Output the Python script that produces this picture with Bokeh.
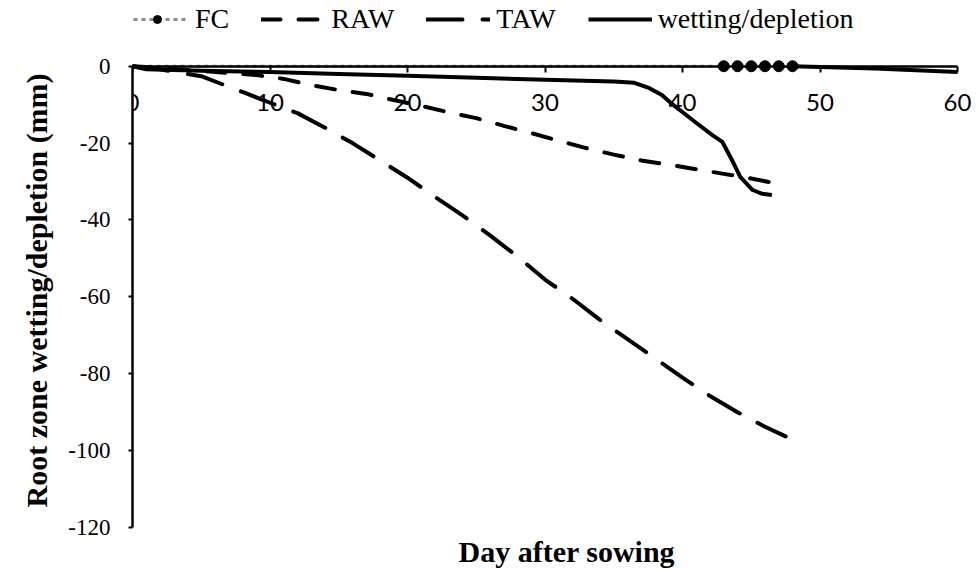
from bokeh.plotting import figure
from bokeh.models import Range1d, FixedTicker, Legend, LegendItem, Title, PrintfTickFormatter, LinearAxis
from bokeh.embed import file_html
from bokeh.resources import INLINE
import numpy as np

# ---- data ----
x_ticks = [0, 10, 20, 30, 40, 50, 60]
y_ticks = [0, -20, -40, -60, -80, -100, -120]

fc_days = [0, 48]
fc_vals = [0, 0]
fc_marker_days = [43, 44, 45, 46, 47, 48]
fc_marker_vals = [0, 0, 0, 0, 0, 0]

raw_days = [0, 5, 9, 11, 13, 15, 17, 19, 21, 23, 25, 27, 29, 31, 33, 35, 37, 39, 41, 43, 45, 47.5]
raw_vals = [0, -1.2, -2.3, -3.3, -4.9, -6.2, -7.2, -8.8, -10.3, -12.0, -13.5, -15.5, -17.4,
            -19.4, -21.3, -23.0, -24.5, -25.6, -26.8, -28.0, -29.2, -31.0]

taw_days = [0, 2, 5, 8, 10, 12, 14, 16, 18, 20, 22, 24, 26, 28, 30, 32, 34, 36, 38, 40, 42, 44, 46, 47.5]
taw_vals = [0, -0.8, -2.6, -6.7, -9.5, -12.2, -16.0, -20.0, -24.5, -29.0, -34.0, -38.8, -44.0,
            -49.5, -55.5, -60.5, -66.0, -71.0, -76.0, -81.0, -85.8, -90.0, -93.8, -96.3]

wet_days = [0, 1, 5, 10, 15, 20, 25, 30, 35, 36.5, 37.6, 38.5, 39.3, 40.2, 41.2, 42.2, 42.9,
            43.6, 44.2, 45.1, 45.8, 46.5, 47.0, 48, 54, 60]
wet_vals = [0, -0.8, -1.2, -1.5, -2.0, -2.5, -3.0, -3.5, -4.0, -4.3, -5.7, -7.5, -10.0, -12.5,
            -15.3, -18.0, -19.7, -24.4, -28.8, -32.2, -33.2, -33.5, np.nan, 0, -0.6, -1.5]

# ---- figure ----
p = figure(width=979, height=572, x_range=Range1d(0, 61.6), y_range=Range1d(-120, 17.1),
           x_axis_location=None, output_backend="svg", toolbar_location=None,
           min_border_left=132, min_border_right=0, min_border_top=0, min_border_bottom=44)
p.grid.visible = False
p.outline_line_color = None
p.background_fill_color = "white"

fc_line = p.line(fc_days, fc_vals, line_color="#8c8c8c", line_width=3, line_dash="4 4")
fc_pts = p.scatter(fc_marker_days, fc_marker_vals, marker="circle", size=11,
                   fill_color="black", line_color="black")
raw_line = p.line(raw_days, raw_vals, line_color="black", line_width=4, line_dash="19 18",
                  line_cap="round")
taw_line = p.line(taw_days, taw_vals, line_color="black", line_width=4, line_dash="36 20",
                  line_cap="round")
wet_line = p.line(wet_days, wet_vals, line_color="black", line_width=4, line_join="round")

xa = LinearAxis(fixed_location=0)
xa.ticker = FixedTicker(ticks=x_ticks)
xa.bounds = (0, 60)
xa.major_label_standoff = 22
xa.major_tick_in = 0
xa.major_tick_out = 6
xa.minor_tick_in = 0
xa.minor_tick_out = 0
xa.axis_line_width = 2.5
xa.major_tick_line_width = 2
xa.major_label_text_font = "Lato"
xa.major_label_text_font_size = "24px"
xa.major_label_text_color = "black"
p.add_layout(xa, "below")

ya = p.yaxis[0]
ya.ticker = FixedTicker(ticks=y_ticks)
ya.bounds = (-120, 0)
ya.formatter = PrintfTickFormatter(format="%d")
ya.major_tick_out = 4
ya.major_tick_in = 0
ya.minor_tick_in = 0
ya.minor_tick_out = 0
ya.major_label_standoff = 18
ya.axis_line_width = 2.5
ya.major_tick_line_width = 2
ya.major_label_text_font = "Liberation Serif"
ya.major_label_text_font_size = "23px"
ya.major_label_text_color = "black"

p.add_layout(Title(text="Root zone wetting/depletion (mm)", align="left", offset=20,
                   standoff=26,
                   text_font="Liberation Serif", text_font_style="bold",
                   text_font_size="30px", text_color="black"), "left")

p.add_layout(Title(text="Day after sowing", align="left", offset=326,
                   text_font="Liberation Serif", text_font_style="bold",
                   text_font_size="30px", text_color="black"), "below")

legend = Legend(items=[
    LegendItem(label="FC", renderers=[fc_line, fc_pts]),
    LegendItem(label="RAW", renderers=[raw_line]),
    LegendItem(label="TAW", renderers=[taw_line]),
    LegendItem(label="wetting/depletion", renderers=[wet_line]),
], orientation="horizontal", location=(-7, 492))
legend.label_text_font = "Liberation Serif"
legend.label_text_font_size = "28px"
legend.label_text_color = "black"
legend.glyph_width = 64
legend.glyph_height = 20
legend.label_standoff = 6
legend.spacing = 32
legend.padding = 0
legend.margin = 0
legend.border_line_color = None
legend.background_fill_alpha = 0
p.add_layout(legend, "center")

open("out.html", "w").write(file_html(p, INLINE))
